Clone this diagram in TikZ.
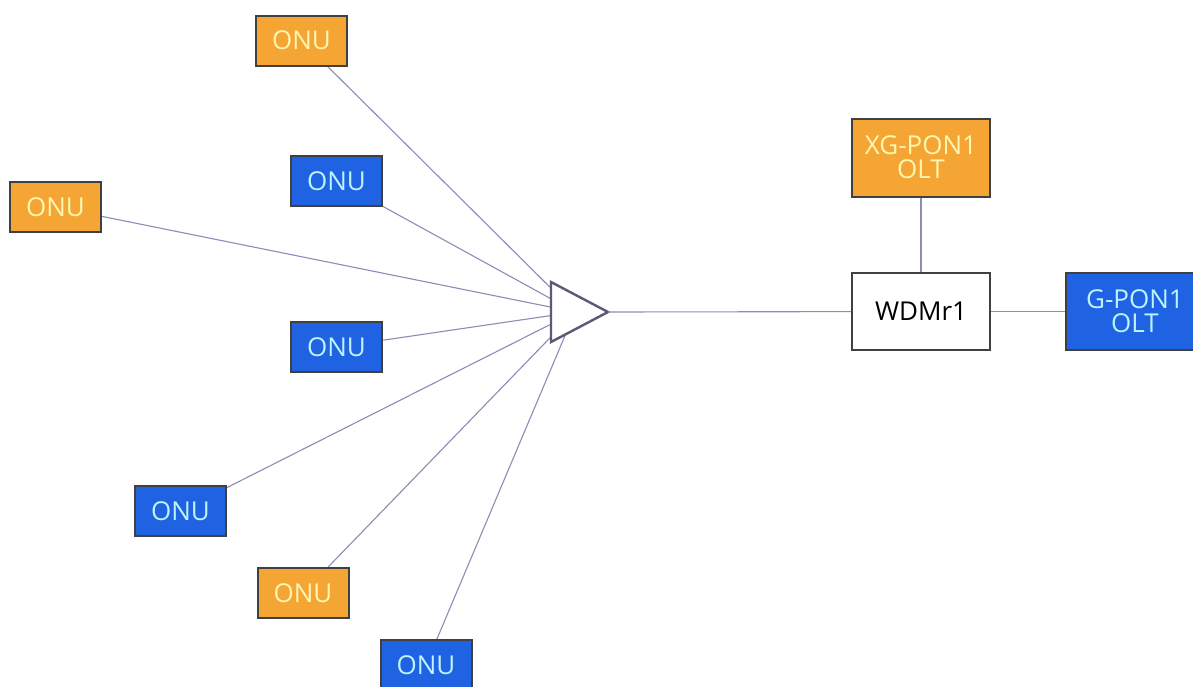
\documentclass[tikz,border=0pt]{standalone}
\usepackage{fontspec}
\setmainfont{Open Sans}
\usetikzlibrary{backgrounds}
\definecolor{onuorange}{HTML}{F4A534}
\definecolor{onublue}{HTML}{1F63E3}
\definecolor{orangetext}{HTML}{FFF6B0}
\definecolor{bluetext}{HTML}{BDF3FF}
\definecolor{boxborder}{HTML}{404040}
\definecolor{wire}{HTML}{8C8CB4}
\definecolor{splitline}{HTML}{5A5A78}
\tikzset{
  box/.style={draw=boxborder, line width=2pt, inner sep=0pt, align=center,
    font=\fontsize{26}{27}\selectfont},
  onuorg/.style={box, fill=onuorange, text=orangetext, minimum width=91pt, minimum height=50pt},
  onublu/.style={box, fill=onublue, text=bluetext, minimum width=91pt, minimum height=50pt},
  oltbox/.style={box, minimum width=138pt, minimum height=78pt},
  wirestyle/.style={draw=wire, line width=1.1pt},
  splitter/.style={draw=splitline, line width=2.4pt, fill=white, line join=miter}
}
\begin{document}
\begin{tikzpicture}[x=1pt,y=-1pt]
\useasboundingbox (0,0) rectangle (1193,686);
% ONUs
\node[onuorg] (o1) at (301.5,40.5) {ONU};
\node[onublu] (o2) at (336.5,181) {ONU};
\node[onuorg] (o3) at (55.5,207) {ONU};
\node[onublu] (o4) at (336.5,347) {ONU};
\node[onublu] (o5) at (180.5,511) {ONU};
\node[onuorg] (o6) at (303,593) {ONU};
\node[onublu] (o7) at (426,665) {ONU};
% OLTs and WDM
\node[oltbox, fill=onuorange, text=orangetext] (xg) at (921,157.5) {XG-PON1\\[-3pt]OLT};
\node[oltbox, fill=white, text=black, minimum height=77pt] (wdm) at (921,311.5) {WDMr1};
\node[oltbox, fill=onublue, text=bluetext, minimum height=77pt] (gp) at (1135,311.5) {G-PON1\\[-3pt]OLT};
% splitter
\coordinate (hub) at (575,312);
\coordinate (tl) at (551,282);
\coordinate (tb) at (551,342);
\coordinate (apex) at (608,312);
\begin{scope}[on background layer]
\fill[white] (0,0) rectangle (1193,686);
\foreach \n in {o1,o2,o3,o4,o5,o6,o7} \draw[wirestyle] (\n) -- (hub);
\end{scope}
\draw[splitter] (tl) -- (apex) -- (tb) -- cycle;
\draw[wirestyle] (apex) -- (wdm);
\draw[wirestyle] (xg) -- (wdm);
\draw[wirestyle] (wdm) -- (gp);
\end{tikzpicture}
\end{document}
